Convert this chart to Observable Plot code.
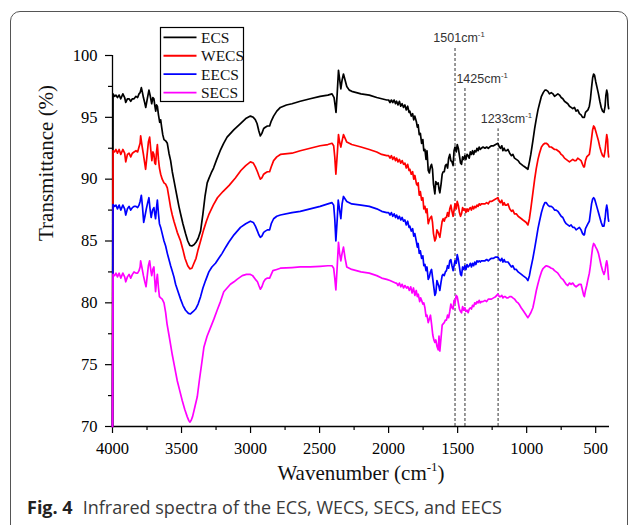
<!DOCTYPE html>
<html><head><meta charset="utf-8">
<script src="https://cdn.jsdelivr.net/npm/d3@7"></script>
<script src="https://cdn.jsdelivr.net/npm/@observablehq/plot@0.6"></script>
<style>
body{margin:0;background:#fff;width:629px;height:525px;overflow:hidden;position:relative}
#frame{position:absolute;left:10px;top:11px;width:618px;height:580px;box-sizing:border-box;border:1px solid #555;border-radius:10px}
#chart{position:absolute;left:0;top:0}
#legend{position:absolute;left:0;top:0;pointer-events:none}
#caption{position:absolute;left:27px;top:497px;font-family:"Open Sans",sans-serif;font-size:18px;line-height:20px;color:#3a3a3a;white-space:nowrap}
#caption b{color:#222;font-weight:700;margin-right:10px}
</style></head><body>
<div id="frame"></div>
<div id="chart"></div>
<svg id="legend" width="629" height="525"></svg>
<div id="caption"><b>Fig. 4</b>Infrared spectra of the ECS, WECS, SECS, and EECS</div>
<script>
// ---- data (wavenumber cm-1, transmittance %) ----
const ECS = [[4000,70],[3996,96.9],[3985,96.7],[3975,96.8],[3964,96.6],[3952,96.8],[3940,96.5],[3925,96.9],[3912,96.6],[3904,96.2],[3892,96.5],[3880,96.5],[3868,96.3],[3856,96.5],[3844,96.5],[3830,96.7],[3818,96.6],[3808,96.9],[3800,97.0],[3791,97.4],[3783,97.0],[3776,96.6],[3767,96.2],[3759,95.8],[3748,96.5],[3736,97.2],[3726,96.7],[3716,96.1],[3708,96.6],[3700,96.5],[3693,95.9],[3687,95.5],[3681,96.0],[3675,95.9],[3667,95.2],[3658,94.6],[3651,94.8],[3644,94.2],[3636,93.6],[3627,93.2],[3615,93.1],[3603,92.9],[3591,92.1],[3579,91.5],[3567,90.6],[3555,89.9],[3543,89.2],[3531,88.5],[3519,87.8],[3507,87.2],[3490,86.4],[3471,85.6],[3455,85.0],[3440,84.65],[3425,84.6],[3410,84.7],[3395,84.9],[3380,85.2],[3362,85.8],[3345,87.2],[3330,88.6],[3314,89.7],[3300,90.1],[3285,90.5],[3268,90.9],[3245,91.6],[3220,92.3],[3195,92.9],[3170,93.4],[3120,94.0],[3073,94.5],[3035,94.9],[3001,95.1],[2980,95.0],[2965,94.8],[2953,94.5],[2940,93.9],[2929,93.5],[2918,93.7],[2905,94.1],[2893,94.2],[2878,94.3],[2862,94.3],[2850,94.7],[2833,95.1],[2810,95.5],[2784,95.8],[2740,96.0],[2700,96.1],[2640,96.3],[2568,96.5],[2496,96.7],[2440,96.8],[2410,96.9],[2395,96.6],[2388,96.0],[2381,95.4],[2372,97.0],[2363,98.8],[2355,98.1],[2346,97.3],[2337,98.0],[2327,98.5],[2315,98.0],[2303,97.5],[2285,97.2],[2267,97.1],[2200,96.9],[2140,96.8],[2086,96.6],[2050,96.5],[2014,96.4],[2000,96.4],[1990,96.2],[1980,96.4],[1970,96.2],[1960,96.4],[1950,96.1],[1942,96.3],[1932,96.0],[1922,96.3],[1912,95.9],[1902,96.1],[1892,95.8],[1882,96.0],[1872,95.6],[1862,95.9],[1852,95.4],[1846,95.5],[1836,95.1],[1826,95.3],[1818,94.8],[1810,95.1],[1798,94.6],[1792,94.2],[1786,94.4],[1778,93.6],[1770,93.7],[1761,92.9],[1752,93.2],[1745,92.3],[1737,92.4],[1729,91.6],[1722,92.3],[1713,90.7],[1705,90.5],[1697,91.0],[1689,91.2],[1682,90.8],[1675,89.6],[1665,88.8],[1658,89.8],[1650,89.6],[1641,89.7],[1635,89.2],[1629,88.9],[1620,89.6],[1612,90.4],[1605,90.6],[1597,90.6],[1589,91.1],[1581,91.2],[1573,90.9],[1565,91.7],[1557,92.0],[1549,91.5],[1541,91.4],[1533,91.1],[1526,92.3],[1519,92.6],[1510,92.2],[1503,92.8],[1495,92.5],[1487,91.9],[1479,91.3],[1472,91.2],[1464,91.8],[1456,91.6],[1448,91.9],[1440,91.6],[1432,92.0],[1424,91.9],[1416,91.7],[1408,92.2],[1400,92.0],[1392,92.3],[1384,92.0],[1376,92.3],[1368,92.2],[1360,92.5],[1352,92.3],[1344,92.6],[1336,92.4],[1328,92.5],[1316,92.6],[1302,92.5],[1290,92.6],[1278,92.5],[1268,92.6],[1255,92.7],[1240,92.7],[1225,92.8],[1208,92.9],[1198,92.6],[1190,92.5],[1180,92.7],[1172,92.3],[1163,92.5],[1155,92.3],[1145,92.3],[1135,92.4],[1123,92.1],[1110,91.9],[1100,92.0],[1088,91.7],[1075,91.6],[1062,91.5],[1050,91.3],[1038,91.2],[1027,91.1],[1015,91.0],[1003,90.9],[991,90.8],[980,91.4],[970,92.0],[955,93.1],[942,94.1],[930,94.9],[918,95.6],[907,96.1],[893,96.7],[880,97.0],[868,97.2],[858,97.2],[846,97.1],[835,96.9],[822,97.0],[810,96.9],[798,96.7],[786,96.8],[774,96.9],[762,96.8],[750,96.6],[738,96.5],[726,96.3],[714,96.2],[702,96.1],[690,95.9],[678,95.8],[666,95.7],[654,95.8],[642,95.5],[630,95.6],[618,95.3],[606,95.2],[595,95.0],[587,95.0],[582,95.0],[574,95.4],[565,95.5],[556,95.6],[546,95.9],[538,96.5],[530,97.4],[522,98.2],[515,98.5],[508,98.4],[500,97.9],[490,97.4],[480,96.9],[470,96.3],[460,95.8],[450,95.5],[440,95.4],[432,95.9],[426,96.8],[420,97.2],[414,96.9],[410,96.0],[406,95.7]];

const WECS = [[4000,70],[3996,92.3],[3985,92.2],[3975,92.4],[3964,92.1],[3952,92.4],[3940,92.0],[3925,92.4],[3912,92.1],[3904,91.4],[3892,92.0],[3880,92.1],[3868,91.8],[3856,92.1],[3844,92.2],[3830,92.3],[3818,92.2],[3808,92.6],[3800,92.9],[3796,93.5],[3786,92.7],[3776,92.0],[3768,91.4],[3760,90.8],[3750,91.9],[3740,93.0],[3731,93.4],[3722,92.3],[3715,91.5],[3707,92.2],[3700,92.0],[3694,91.3],[3688,91.2],[3681,92.2],[3675,92.8],[3667,91.6],[3660,90.9],[3651,90.4],[3640,90.0],[3627,89.7],[3615,89.6],[3603,89.3],[3591,88.5],[3579,87.7],[3567,87.1],[3555,86.6],[3531,85.7],[3507,85.0],[3490,84.3],[3475,83.6],[3455,83.0],[3440,82.75],[3425,82.8],[3410,83.2],[3395,83.6],[3380,84.3],[3362,85.0],[3340,85.9],[3320,86.6],[3300,87.2],[3270,87.9],[3240,88.5],[3200,89.0],[3155,89.5],[3110,90.1],[3070,90.7],[3035,91.1],[3001,91.4],[2980,91.3],[2965,91.0],[2950,90.6],[2940,90.3],[2929,90.0],[2918,90.1],[2905,90.4],[2893,90.5],[2878,90.6],[2862,90.6],[2850,91.0],[2833,91.5],[2810,91.8],[2784,92.0],[2700,92.1],[2640,92.3],[2568,92.5],[2496,92.7],[2440,92.8],[2410,92.9],[2398,92.7],[2390,91.8],[2382,90.4],[2372,92.0],[2363,93.6],[2355,93.0],[2346,92.6],[2337,93.1],[2327,93.6],[2315,93.3],[2303,93.0],[2285,92.9],[2267,92.8],[2200,92.6],[2140,92.4],[2086,92.2],[2050,92.0],[2014,91.9],[2000,91.9],[1990,91.7],[1980,91.9],[1970,91.6],[1960,91.8],[1950,91.5],[1942,91.7],[1932,91.4],[1922,91.6],[1912,91.3],[1902,91.5],[1892,91.2],[1882,91.3],[1872,90.9],[1862,91.2],[1852,90.7],[1846,90.8],[1836,90.4],[1826,90.6],[1818,90.0],[1810,90.3],[1798,89.6],[1792,89.5],[1786,89.7],[1778,88.7],[1770,89.0],[1761,88.3],[1752,88.5],[1745,87.6],[1737,87.8],[1729,87.3],[1722,87.6],[1713,86.4],[1705,86.7],[1697,86.9],[1689,87.0],[1682,86.5],[1675,85.6],[1665,85.0],[1658,85.2],[1650,85.9],[1641,85.7],[1635,85.5],[1629,85.3],[1620,86.0],[1612,86.6],[1605,86.8],[1597,86.6],[1589,86.9],[1581,86.9],[1573,87.3],[1565,87.0],[1557,87.6],[1549,87.9],[1541,87.4],[1533,87.0],[1526,87.5],[1519,88.0],[1510,87.6],[1503,88.2],[1495,87.9],[1487,87.3],[1479,87.0],[1472,87.2],[1464,87.7],[1456,87.5],[1448,87.6],[1440,87.3],[1432,87.6],[1424,87.4],[1416,87.6],[1408,87.7],[1400,87.5],[1392,87.8],[1384,87.6],[1376,87.8],[1368,87.7],[1360,87.9],[1352,87.8],[1344,88.0],[1336,87.9],[1328,88.0],[1316,88.0],[1302,88.0],[1290,88.1],[1278,88.0],[1268,88.2],[1255,88.2],[1240,88.3],[1225,88.4],[1208,88.5],[1198,88.2],[1190,88.1],[1180,88.3],[1172,87.9],[1163,88.1],[1155,87.9],[1145,87.9],[1135,88.0],[1123,87.6],[1110,87.4],[1100,87.5],[1088,87.2],[1075,87.2],[1062,87.0],[1050,86.9],[1038,86.8],[1027,86.7],[1015,86.6],[1003,86.5],[991,86.3],[980,86.8],[970,87.6],[955,88.9],[942,90.0],[930,90.9],[918,91.6],[907,92.1],[893,92.6],[880,92.8],[868,92.9],[858,92.9],[846,92.8],[835,92.6],[822,92.6],[810,92.5],[798,92.4],[786,92.4],[774,92.3],[762,92.2],[750,92.0],[738,91.9],[726,91.7],[714,91.6],[702,91.5],[690,91.4],[678,91.5],[666,91.6],[654,91.5],[642,91.5],[630,91.7],[618,91.6],[606,91.5],[595,91.2],[587,91.0],[582,91.0],[574,91.5],[565,91.8],[556,91.9],[546,92.0],[538,92.6],[530,93.3],[522,94.0],[515,94.3],[508,94.2],[500,93.9],[490,93.5],[480,93.1],[470,92.6],[460,92.2],[450,91.9],[440,91.8],[432,92.3],[426,93.0],[420,93.6],[414,93.2],[410,92.2],[406,91.8]];

const EECS = [[4000,70],[3996,87.95],[3985,87.8],[3975,87.9],[3964,87.6],[3952,87.9],[3940,87.5],[3925,87.9],[3912,87.6],[3904,87.1],[3892,87.6],[3880,87.8],[3868,87.5],[3856,87.7],[3844,87.8],[3830,87.8],[3818,87.7],[3808,87.9],[3800,88.2],[3791,88.7],[3783,87.8],[3774,86.5],[3765,87.0],[3755,87.6],[3745,88.1],[3736,88.5],[3728,87.6],[3720,86.9],[3710,87.5],[3700,87.7],[3694,87.2],[3688,86.8],[3681,87.7],[3675,88.3],[3667,87.2],[3660,86.4],[3651,86.1],[3640,85.6],[3627,85.0],[3615,84.6],[3603,84.0],[3591,83.5],[3579,83.0],[3568,82.6],[3555,82.1],[3543,81.5],[3525,80.9],[3507,80.3],[3490,79.8],[3471,79.4],[3450,79.15],[3435,79.1],[3415,79.3],[3398,79.5],[3380,79.9],[3362,80.5],[3345,81.2],[3326,81.8],[3302,82.5],[3280,82.9],[3254,83.2],[3230,83.6],[3206,84.0],[3180,84.5],[3158,84.9],[3120,85.5],[3073,86.1],[3035,86.4],[3001,86.6],[2980,86.5],[2965,86.2],[2950,85.8],[2940,85.5],[2929,85.3],[2918,85.4],[2905,85.7],[2893,85.8],[2878,85.9],[2862,85.9],[2850,86.4],[2833,86.8],[2810,87.0],[2784,87.1],[2700,87.3],[2640,87.4],[2568,87.6],[2496,87.8],[2440,88.0],[2410,88.1],[2398,87.9],[2390,86.8],[2382,85.0],[2372,86.8],[2365,88.3],[2356,87.6],[2346,86.8],[2337,88.0],[2327,88.6],[2315,88.4],[2303,88.2],[2285,88.1],[2267,88.0],[2200,87.9],[2140,87.8],[2086,87.6],[2050,87.4],[2014,87.3],[2000,87.3],[1990,87.1],[1980,87.3],[1970,87.0],[1960,87.2],[1950,86.9],[1942,87.1],[1932,86.8],[1922,87.0],[1912,86.7],[1902,86.9],[1892,86.6],[1882,86.7],[1872,86.3],[1862,86.6],[1852,86.1],[1846,86.2],[1836,85.8],[1826,86.0],[1818,85.4],[1810,85.6],[1798,84.9],[1792,84.5],[1786,84.8],[1778,84.0],[1770,84.2],[1761,83.6],[1752,83.8],[1745,83.0],[1737,83.1],[1729,82.6],[1722,82.9],[1713,81.9],[1705,82.1],[1697,82.5],[1689,82.7],[1682,82.1],[1675,81.5],[1665,80.6],[1658,80.8],[1650,81.8],[1641,81.5],[1635,81.3],[1629,81.0],[1620,81.7],[1612,82.2],[1605,82.3],[1597,82.2],[1589,82.5],[1581,82.6],[1573,83.0],[1565,82.8],[1557,83.4],[1549,83.5],[1541,83.0],[1533,82.6],[1526,83.0],[1519,83.4],[1510,83.2],[1503,83.9],[1495,83.5],[1487,82.9],[1479,82.3],[1472,82.2],[1464,82.9],[1456,82.7],[1448,83.0],[1440,82.7],[1432,83.1],[1424,82.9],[1416,83.0],[1408,83.2],[1400,82.9],[1392,83.2],[1384,83.0],[1376,83.3],[1368,83.1],[1360,83.4],[1352,83.3],[1344,83.4],[1336,83.3],[1328,83.4],[1316,83.4],[1302,83.4],[1290,83.5],[1278,83.4],[1268,83.5],[1255,83.6],[1240,83.6],[1225,83.7],[1208,83.7],[1198,83.5],[1190,83.4],[1180,83.6],[1172,83.3],[1163,83.5],[1155,83.3],[1145,83.3],[1135,83.3],[1123,83.1],[1110,82.9],[1100,83.0],[1088,82.7],[1075,82.7],[1062,82.5],[1050,82.4],[1038,82.3],[1027,82.2],[1015,82.1],[1003,82.0],[991,81.8],[980,82.2],[970,82.8],[955,83.6],[942,84.4],[930,85.2],[918,86.0],[907,86.6],[893,87.3],[880,87.8],[868,88.1],[858,88.1],[846,87.9],[835,87.8],[822,87.8],[810,87.7],[798,87.5],[786,87.5],[774,87.4],[762,87.2],[750,87.0],[738,86.9],[726,86.6],[714,86.4],[702,86.3],[690,86.2],[678,86.3],[666,86.1],[654,86.1],[642,85.9],[630,86.0],[618,86.1],[606,85.9],[595,85.6],[587,85.5],[582,85.5],[574,86.0],[565,86.2],[556,86.4],[546,86.6],[538,87.3],[530,88.0],[522,88.4],[515,88.5],[508,88.4],[500,88.1],[490,87.7],[480,87.3],[470,86.9],[460,86.5],[450,86.2],[440,86.2],[432,86.8],[426,87.5],[420,87.9],[414,87.5],[410,86.9],[406,86.6]];

const SECS = [[4000,70],[3996,82.3],[3985,82.2],[3975,82.4],[3964,82.1],[3952,82.4],[3940,82.0],[3925,82.4],[3912,82.1],[3904,81.7],[3892,82.1],[3880,82.3],[3868,82.0],[3856,82.3],[3844,82.5],[3830,82.4],[3818,82.4],[3808,82.6],[3800,82.9],[3796,83.4],[3786,82.8],[3776,82.2],[3766,81.7],[3757,81.3],[3750,82.0],[3740,83.0],[3731,83.4],[3722,82.6],[3716,82.2],[3708,82.7],[3700,82.9],[3694,81.8],[3688,80.9],[3681,81.8],[3675,82.3],[3667,81.2],[3660,80.5],[3651,80.4],[3640,80.3],[3627,80.0],[3615,79.2],[3605,78.3],[3591,77.4],[3579,76.6],[3567,75.8],[3555,75.1],[3543,74.4],[3531,73.7],[3513,72.9],[3495,72.1],[3477,71.4],[3459,70.8],[3448,70.5],[3440,70.35],[3430,70.5],[3420,70.8],[3403,71.6],[3386,72.4],[3370,73.8],[3355,75.0],[3338,76.4],[3315,77.3],[3290,78.0],[3265,78.7],[3242,79.4],[3218,80.1],[3194,80.9],[3170,81.2],[3146,81.5],[3120,81.7],[3098,81.9],[3060,82.2],[3030,82.3],[3001,82.3],[2985,82.2],[2965,81.9],[2950,81.7],[2940,81.4],[2929,81.1],[2918,81.3],[2905,81.7],[2893,81.9],[2878,82.0],[2862,82.0],[2850,82.3],[2838,82.6],[2810,82.7],[2784,82.8],[2700,82.85],[2640,82.9],[2568,82.9],[2496,82.95],[2440,83.0],[2410,83.0],[2398,82.8],[2390,82.0],[2382,81.05],[2372,83.0],[2363,84.9],[2355,84.0],[2346,83.4],[2337,84.0],[2327,84.5],[2315,83.6],[2303,82.9],[2285,82.8],[2267,82.7],[2200,82.5],[2140,82.4],[2086,82.2],[2050,82.0],[2014,81.9],[1990,81.8],[1970,81.7],[1950,81.6],[1942,81.6],[1932,81.4],[1922,81.6],[1912,81.3],[1902,81.5],[1892,81.2],[1882,81.4],[1870,81.2],[1860,81.3],[1850,81.0],[1840,81.3],[1830,80.8],[1820,81.2],[1810,80.6],[1800,81.0],[1792,80.5],[1785,80.7],[1775,80.1],[1768,80.4],[1761,80.2],[1752,79.9],[1745,80.0],[1737,79.6],[1729,78.9],[1722,79.0],[1713,78.4],[1705,78.7],[1697,79.0],[1689,78.3],[1680,77.4],[1672,77.0],[1665,76.8],[1658,77.0],[1650,76.5],[1641,76.2],[1635,77.3],[1629,76.1],[1620,77.2],[1612,78.2],[1605,78.3],[1597,78.4],[1589,78.6],[1581,78.6],[1573,79.0],[1565,78.8],[1557,79.3],[1549,79.9],[1541,79.6],[1533,79.5],[1526,80.2],[1519,80.0],[1510,80.6],[1503,80.5],[1495,80.0],[1487,79.5],[1479,79.3],[1472,79.2],[1464,79.7],[1456,79.4],[1448,79.6],[1440,79.3],[1432,79.4],[1424,79.2],[1416,79.5],[1408,79.6],[1400,79.5],[1392,79.8],[1384,79.7],[1376,80.0],[1368,79.9],[1360,80.1],[1352,80.0],[1344,80.2],[1336,80.0],[1328,80.1],[1316,80.1],[1302,80.2],[1290,80.1],[1278,80.3],[1268,80.3],[1255,80.3],[1240,80.4],[1225,80.5],[1208,80.7],[1198,80.5],[1190,80.5],[1180,80.6],[1172,80.4],[1163,80.5],[1155,80.5],[1145,80.4],[1135,80.4],[1123,80.5],[1111,80.5],[1100,80.4],[1088,80.3],[1075,80.1],[1063,80.0],[1050,79.8],[1040,79.6],[1027,79.4],[1015,79.2],[1003,79.0],[991,78.8],[980,79.0],[970,79.2],[955,79.6],[942,80.3],[930,81.0],[919,81.5],[907,82.0],[893,82.5],[883,82.75],[870,82.9],[858,83.0],[846,82.95],[835,82.9],[822,82.8],[810,82.75],[798,82.6],[786,82.5],[774,82.4],[762,82.2],[750,82.0],[738,81.9],[726,81.7],[714,81.5],[702,81.4],[690,81.6],[678,81.5],[666,81.6],[654,81.4],[642,81.3],[630,81.4],[618,81.5],[606,81.5],[595,81.0],[587,80.6],[582,80.5],[574,81.0],[565,81.4],[558,81.8],[546,82.4],[538,83.0],[530,83.8],[522,84.5],[515,84.8],[508,84.7],[500,84.5],[490,84.3],[480,84.0],[470,83.5],[460,83.0],[450,82.6],[440,82.3],[432,82.6],[426,83.1],[420,83.4],[414,83.0],[410,82.4],[406,81.9]];

const seriesNames = ["ECS", "WECS", "EECS", "SECS"];
const seriesColors = ["#000000", "#ff0000", "#0000ff", "#ff00ff"];
const seriesData = [ECS, WECS, EECS, SECS];

const xMajor = [4000, 3500, 3000, 2500, 2000, 1500, 1000, 500];
const xMinor = [3750, 3250, 2750, 2250, 1750, 1250, 750];
const yMajor = [70, 75, 80, 85, 90, 95, 100];
const yMinor = [72.5, 77.5, 82.5, 87.5, 92.5, 97.5];

// marker bands: label, line position, line top, label anchor
const bandLabels = ["1501", "1425", "1233"];
const bandWave = [1519, 1447, 1207];
const bandTop = [100.67, 97.49, 94.07];
const bandLabelWave = [1676, 1509, 1333];
const bandLabelT = [101.08, 97.76, 94.53];

const xTitle = "Wavenumber (cm^-1^)";
const yTitle = "Transmittance (%)";

// ---- build ----
const bands = bandLabels.map((l, i) => ({label: l + "cm^-1", w: bandWave[i], top: bandTop[i], lw: bandLabelWave[i], lt: bandLabelT[i]}));
const lineMarks = seriesData.map((s, i) =>
  Plot.line(s.map(([w, t]) => ({w, t})), {x: "w", y: "t", stroke: seriesColors[i], strokeWidth: 1.7, strokeLinejoin: "round"}));

const serif = "'Liberation Serif','Times New Roman',serif";
const sans = "'Liberation Sans',Arial,sans-serif";

const chart = Plot.plot({
  width: 629, height: 490,
  marginLeft: 112, marginRight: 20, marginTop: 55, marginBottom: 64,
  x: {domain: [4000, 400]},
  y: {domain: [70, 100]},
  style: {fontFamily: serif, fontSize: "16.5px", color: "#000", background: "transparent", overflow: "visible"},
  marks: [
    Plot.axisY({ticks: yMajor, tickSize: 7, tickPadding: 8, tickFormat: d => String(d), label: null, strokeWidth: 1.2}),
    Plot.axisY({ticks: yMinor, tickSize: 4, tickFormat: () => "", label: null, strokeWidth: 1.2}),
    Plot.axisX({ticks: xMajor, tickSize: 7, tickPadding: 9, tickFormat: d => String(d), label: null, strokeWidth: 1.2}),
    Plot.axisX({ticks: xMinor, tickSize: 4, tickFormat: () => "", label: null, strokeWidth: 1.2}),
    Plot.ruleY([70], {stroke: "#000", strokeWidth: 1.3}),
    Plot.ruleX([4000], {stroke: "#000", strokeWidth: 1.3}),
    Plot.ruleX(bands, {x: "w", y1: 70, y2: "top", stroke: "#333", strokeWidth: 1, strokeDasharray: "3,2"}),
    ...lineMarks,
    Plot.text(bands, {x: "lw", y: "lt", text: "label", textAnchor: "start", lineAnchor: "bottom", fontFamily: sans, fontSize: 12.5, fill: "#333"}),
    Plot.text([yTitle], {frameAnchor: "left", text: d => d, rotate: -90, dx: -66, fontSize: 21, lineAnchor: "middle", fill: "#111"}),
    Plot.text([xTitle], {frameAnchor: "bottom", text: d => d, dy: 53.5, fontSize: 21, lineAnchor: "bottom", fill: "#111"})
  ]
});
document.getElementById("chart").append(chart);

// superscripts written as a^b^c
d3.select(chart).selectAll("text").each(function() {
  const t = this.textContent;
  if (!t.includes("^")) return;
  const parts = t.split("^");
  const fs = parseFloat(getComputedStyle(this).fontSize) || 16;
  const raise = fs * 0.42, small = fs * 0.62;
  const sel = d3.select(this);
  sel.text("");
  sel.append("tspan").text(parts[0]);
  sel.append("tspan").attr("dy", -raise).attr("font-size", small).text(parts[1]);
  if (parts[2]) sel.append("tspan").attr("dy", raise).text(parts[2]);
});

// legend
const lg = d3.select("#legend");
lg.append("rect").attr("x", 160.5).attr("y", 27.5).attr("width", 83).attr("height", 74)
  .attr("fill", "#fff").attr("stroke", "#000").attr("stroke-width", 1.2);
seriesNames.forEach((n, i) => {
  const cy = 37.3 + i * 18.45;
  lg.append("line").attr("x1", 163.5).attr("x2", 196.5).attr("y1", cy).attr("y2", cy)
    .attr("stroke", seriesColors[i]).attr("stroke-width", 1.8);
  lg.append("text").attr("x", 201).attr("y", cy + 5.3).attr("font-family", serif)
    .attr("font-size", 15.5).attr("fill", "#111").text(n);
});
</script>
</body></html>
